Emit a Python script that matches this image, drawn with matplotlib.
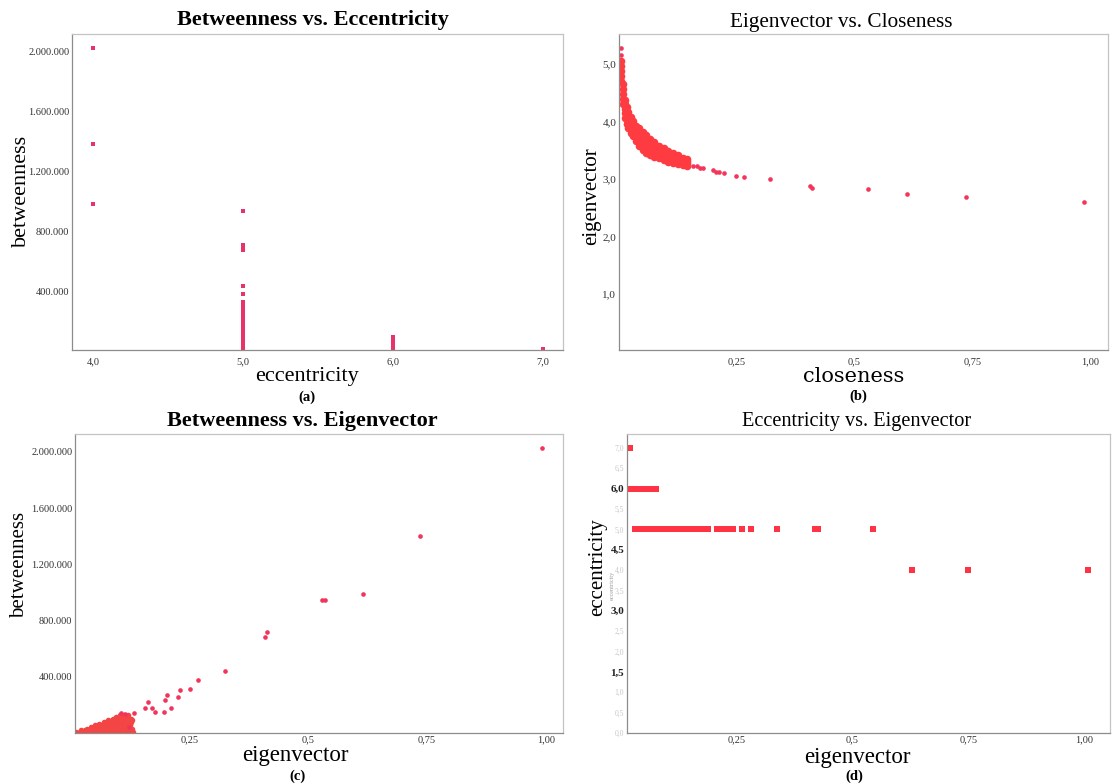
import matplotlib.pyplot as plt

# (a) betweenness of the nodes, grouped by eccentricity
a_betw_by_ecc = {
    4: [2027000, 1387000, 987000],
    5: [940000, 713000, 695000, 680000, 440000, 387000, 333000, 307000, 290000, 275000, 262000, 248000,
        236000, 221000, 208000, 196000, 183000, 171000, 160000, 148000, 137000, 126000, 115000, 104000,
        94000, 85000, 76000, 67000, 58000, 50000, 42000, 35000, 28000, 22000, 16000],
    6: [102000, 92000, 82000, 73000, 64000, 56000, 48000, 41000, 34000, 27000, 21000, 16000],
    7: [17000],
}

# (b) eigenvector vs closeness: the dense band near closeness 0 ...
b_band_close = [0.005, 0.008, 0.012, 0.016, 0.020, 0.025, 0.030, 0.036, 0.042, 0.050,
                0.058, 0.066, 0.075, 0.085, 0.095, 0.105, 0.115, 0.125, 0.135, 0.145]
b_band_eig = {
    'upper':     [5.05, 4.65, 4.38, 4.25, 4.17, 4.07, 4.00, 3.93, 3.88, 3.82,
                  3.76, 3.70, 3.64, 3.58, 3.54, 3.49, 3.45, 3.41, 3.37, 3.34],
    'upper_mid': [4.96, 4.56, 4.30, 4.17, 4.10, 4.00, 3.94, 3.87, 3.80, 3.74,
                  3.68, 3.63, 3.58, 3.53, 3.49, 3.45, 3.41, 3.37, 3.34, 3.31],
    'mid':       [4.88, 4.48, 4.22, 4.10, 4.02, 3.93, 3.87, 3.80, 3.73, 3.66,
                  3.60, 3.56, 3.51, 3.47, 3.43, 3.40, 3.36, 3.33, 3.30, 3.28],
    'lower_mid': [4.79, 4.39, 4.14, 4.02, 3.95, 3.86, 3.80, 3.73, 3.65, 3.58,
                  3.52, 3.49, 3.45, 3.41, 3.38, 3.35, 3.32, 3.29, 3.27, 3.25],
    'lower':     [4.70, 4.30, 4.06, 3.95, 3.88, 3.80, 3.74, 3.66, 3.58, 3.50,
                  3.45, 3.42, 3.39, 3.36, 3.33, 3.30, 3.28, 3.26, 3.24, 3.22],
}
# ... and the separate nodes
b_close = [0.004, 0.004, 0.158, 0.165, 0.172, 0.178, 0.200, 0.205, 0.212, 0.223, 0.248, 0.265, 0.320,
           0.405, 0.410, 0.529, 0.611, 0.737, 0.987]
b_eig = [5.28, 5.16, 3.23, 3.22, 3.20, 3.19, 3.15, 3.13, 3.12, 3.10, 3.05, 3.03, 3.00,
         2.88, 2.85, 2.82, 2.74, 2.69, 2.60]

# (c) betweenness vs eigenvector: wedge of low-value nodes, by betweenness level ...
c_wedge = {
    6000:   [0.012, 0.020, 0.028, 0.036, 0.044, 0.052, 0.060, 0.068, 0.076, 0.084, 0.092, 0.100, 0.108, 0.116, 0.124, 0.132],
    18000:  [0.022, 0.030, 0.038, 0.046, 0.054, 0.062, 0.070, 0.078, 0.086, 0.094, 0.102, 0.110, 0.118, 0.126],
    30000:  [0.034, 0.042, 0.050, 0.058, 0.066, 0.074, 0.082, 0.090, 0.098, 0.106, 0.114, 0.122, 0.130],
    42000:  [0.042, 0.050, 0.058, 0.066, 0.074, 0.082, 0.090, 0.098, 0.106, 0.114, 0.122],
    54000:  [0.052, 0.060, 0.068, 0.076, 0.084, 0.092, 0.100, 0.108, 0.116, 0.124],
    66000:  [0.060, 0.068, 0.076, 0.084, 0.092, 0.100, 0.108, 0.116, 0.124],
    78000:  [0.070, 0.078, 0.086, 0.094, 0.102, 0.110, 0.118, 0.126],
    90000:  [0.078, 0.086, 0.094, 0.102, 0.110, 0.118, 0.128],
    102000: [0.088, 0.096, 0.104, 0.112, 0.120, 0.127],
    114000: [0.096, 0.104, 0.112, 0.120],
    126000: [0.104, 0.112, 0.121],
}
# ... and the separate nodes
c_eig = [0.106, 0.115, 0.134, 0.123,
         0.157, 0.163, 0.172, 0.178, 0.197, 0.199, 0.203, 0.210, 0.225, 0.231, 0.250, 0.267, 0.324,
         0.409, 0.413, 0.528, 0.536, 0.616, 0.736, 0.992]
c_betw = [144000, 138000, 144000, 44000,
          179000, 222000, 179000, 151000, 151000, 236000, 272000, 179000, 258000, 307000, 315000, 379000, 443000,
          680000, 722000, 950000, 950000, 992000, 1399000, 2028000]

# (d) eigenvector of the nodes, grouped by eccentricity
d_eig_by_ecc = {
    7: [0.015, 0.020],
    6: [0.015, 0.020, 0.025, 0.030, 0.035, 0.040, 0.045, 0.050, 0.055, 0.060, 0.065, 0.070, 0.075],
    5: [0.030, 0.035, 0.040, 0.045, 0.050, 0.055, 0.060, 0.065, 0.070, 0.075, 0.080, 0.085, 0.090,
        0.095, 0.100, 0.105, 0.110, 0.115, 0.120, 0.125, 0.130, 0.135, 0.140, 0.145, 0.150,
        0.162, 0.168, 0.175, 0.182, 0.188, 0.207, 0.213, 0.222, 0.231, 0.241, 0.261, 0.280,
        0.336, 0.420, 0.425, 0.545],
    4: [0.629, 0.750, 1.009],
}

betw_ticks = [400000, 800000, 1200000, 1600000, 2000000]
frac_ticks = [0.25, 0.5, 0.75, 1.0]
frac_labels = ['0,25', '0,5', '0,75', '1,00']

W, H = 1112, 784
plt.rcParams['font.family'] = 'Liberation Serif'

fig = plt.figure(figsize=(W / 100, H / 100), dpi=100)


def box(l, t, r, b):
    return [l / W, 1 - b / H, (r - l) / W, (b - t) / H]


def txt(x, y, s, **kw):
    fig.text(x / W, 1 - y / H, s, ha='center', va='center', **kw)


def frame(ax):
    for side in ['left', 'bottom']:
        ax.spines[side].set_color('#8c8c8c')
    for side in ['top', 'right']:
        ax.spines[side].set_color('#c4c4c4')
    for s in ax.spines.values():
        s.set_linewidth(0.9)
    ax.tick_params(length=0, labelsize=7.5, labelcolor='#333333', pad=2)


def thousands(v):
    return f'{v:,}'.replace(',', '.')


def dec(v, n=1):
    return f'{v:.{n}f}'.replace('.', ',')


def flatten(groups):
    keys, vals = [], []
    for k, vs in groups.items():
        keys += [k] * len(vs)
        vals += vs
    return keys, vals


# (a)
ax = fig.add_axes(box(72, 34, 563, 350))
frame(ax)
a_ecc, a_betw = flatten(a_betw_by_ecc)
ax.scatter(a_ecc, a_betw, s=7, marker='s', color='#e8336a', linewidths=0)
ax.set_xlim(3.86, 7.133)
ax.set_ylim(13000, 2120000)
ax.set_xticks([4, 5, 6, 7], [dec(v) for v in [4, 5, 6, 7]])
ax.set_yticks(betw_ticks, [thousands(v) for v in betw_ticks])
ax.tick_params(axis='x', pad=5)
txt(313, 20, 'Betweenness vs. Eccentricity', fontsize=16, fontweight='bold')
txt(21, 191, 'betweenness', fontsize=16, rotation=90)
txt(307, 377, 'eccentricity', fontsize=16)
txt(307, 397, '(a)', fontsize=10.5, fontweight='bold')

# (b)
ax = fig.add_axes(box(619, 34, 1108, 350))
frame(ax)
rows = list(b_band_eig.values())
ax.scatter(b_band_close * len(rows), sum(rows, []), s=30, marker='o',
           color='#ff3b42', linewidths=0)
ax.scatter(b_close, b_eig, s=11, marker='o', color='#f5345a', linewidths=0)
ax.set_xlim(0.0, 1.038)
ax.set_ylim(0.03, 5.52)
ax.set_xticks(frac_ticks, frac_labels)
ax.set_yticks([1, 2, 3, 4, 5], [dec(v) for v in [1, 2, 3, 4, 5]])
ax.tick_params(axis='y', labelsize=8)
ax.tick_params(axis='x', pad=5)
txt(841, 22, 'Eigenvector vs. Closeness', fontsize=15.3)
txt(592, 196, 'eigenvector', fontsize=15, rotation=90)
txt(854, 377, 'closeness', fontsize=15, family='DejaVu Serif')
txt(858, 396, '(b)', fontsize=10.5, fontweight='bold')

# (c)
ax = fig.add_axes(box(75, 434, 563, 733))
frame(ax)
w_betw, w_eig = flatten(c_wedge)
ax.scatter(w_eig, w_betw, s=16, marker='o', color='#f44545', linewidths=0)
ax.scatter(c_eig, c_betw, s=11, marker='o', color='#f2345a', linewidths=0)
ax.set_xlim(0.009, 1.036)
ax.set_ylim(0, 2128000)
ax.set_xticks(frac_ticks, frac_labels)
ax.set_yticks(betw_ticks, [thousands(v) for v in betw_ticks])
ax.tick_params(axis='x', pad=1.5)
txt(302, 421, 'Betweenness vs. Eigenvector', fontsize=16, fontweight='bold')
txt(20, 565, 'betweenness', fontsize=15, rotation=90)
txt(295, 756, 'eigenvector', fontsize=16.5)
txt(297, 776, '(c)', fontsize=10.5, fontweight='bold')

# (d)
ax = fig.add_axes(box(627, 434, 1110, 733))
frame(ax)
d_ecc, d_eig = flatten(d_eig_by_ecc)
ax.scatter(d_eig, d_ecc, s=13, marker='s', color='#ff3344', linewidths=0)
ax.set_xlim(0.013, 1.056)
ax.set_ylim(0, 7.34)
ax.set_xticks(frac_ticks, frac_labels)
dy = [0, 0.5, 1, 1.5, 2, 2.5, 3, 3.5, 4, 4.5, 5, 5.5, 6, 6.5, 7]
ax.set_yticks(dy, [dec(v) for v in dy])
for v, lab in zip(dy, ax.get_yticklabels()):
    if v in (1.5, 3, 4.5, 6):
        lab.set_color('#222222')
        lab.set_fontsize(8)
        lab.set_fontweight('bold')
    else:
        lab.set_color('#c8c8c8')
        lab.set_fontsize(5.5)
ax.tick_params(axis='x', pad=1.5)
txt(857, 422, 'Eccentricity vs. Eigenvector', fontsize=14.6)
txt(598, 567, 'eccentricity', fontsize=15, rotation=90)
txt(612, 585, 'eccentricity', fontsize=4.5, rotation=90, color='#9a9a9a')
txt(857, 757, 'eigenvector', fontsize=16.5)
txt(854, 776, '(d)', fontsize=10.5, fontweight='bold')

fig.savefig('out.png', dpi=100, facecolor='white')
